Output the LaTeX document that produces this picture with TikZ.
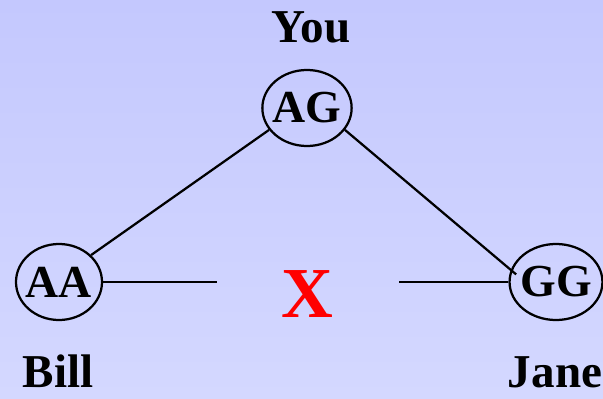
\documentclass[tikz,border=0pt]{standalone}
\usepackage{fontspec}
\setmainfont{Liberation Serif}
\usetikzlibrary{shapes.geometric}
\definecolor{bgtop}{RGB}{196,200,254}
\definecolor{bgbot}{RGB}{212,216,255}

\begin{document}
\begin{tikzpicture}[x=0.025cm, y=-0.025cm,
        geno/.style={ellipse, draw=black, line width=1.6pt, inner sep=-2pt,
            minimum width=2.15cm, minimum height=1.9cm,
            font=\fontsize{32.6}{36}\selectfont\bfseries},
        who/.style={anchor=base, font=\fontsize{33.5}{36}\selectfont\bfseries},
        link/.style={black, line width=1.6pt}]
                \useasboundingbox (0,0) rectangle (603,399);
                \shade[top color=bgtop, bottom color=bgbot] (0,0) rectangle (603,399);
                \node[geno] (AG) at (307,108) {AG};
                \node[geno] (AA) at (59,282) {AA};
                \node[geno] (GG) at (556,282) {GG};
                \node[who] (you) at (311,43) {You};
                \node[who] (bill) at (58,387) {Bill};
                \node[who] (jane) at (555,387) {Jane};
                \node[who, text=red, font=\fontsize{51}{56}\selectfont\bfseries] (cross) at (307,317) {X};
                \coordinate (gapL) at (217,282);
                \coordinate (gapR) at (399,282);
                \draw[link] (AA.40) -- (AG.210);
                \draw[link, shorten >=-5pt] (AG.-30) -- (GG.165);
                \draw[link] (AA.east) -- (gapL);
                \draw[link] (gapR) -- (GG.west);
            \end{tikzpicture}
\end{document}
